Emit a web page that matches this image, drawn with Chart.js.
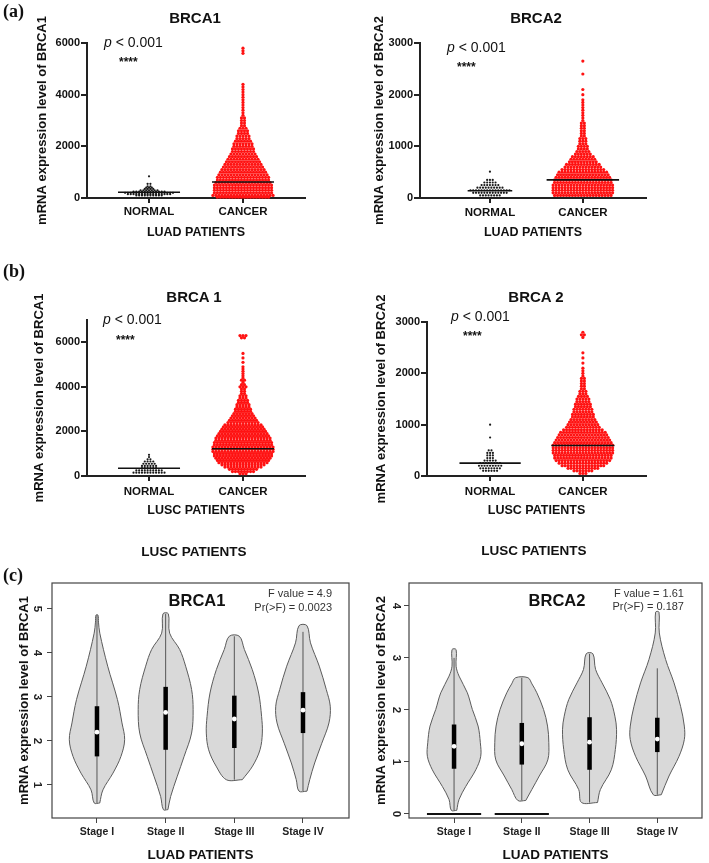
<!DOCTYPE html>
<html lang="en">
<head>
<meta charset="UTF-8">
<title>BRCA1 / BRCA2 expression</title>
<style>
  body { margin:0; background:#fff; width:709px; height:863px; overflow:hidden; position:relative;
         font-family:'Liberation Sans', Arial, sans-serif; color:#111; }
  canvas { position:absolute; }
  .lbl { position:absolute; transform:translateY(-50%); font-family:'Liberation Serif', 'Times New Roman', serif;
         font-weight:bold; font-size:18px; }
  .ttl { position:absolute; transform:translate(-50%,-50%); font-weight:bold; font-size:15px; white-space:nowrap; }
  .pv  { position:absolute; transform:translateY(-50%); font-size:14px; white-space:nowrap; }
  .st  { position:absolute; transform:translateY(-50%); font-size:12px; font-weight:bold; white-space:nowrap; }
  .sub { position:absolute; transform:translate(-50%,-50%); font-weight:bold; font-size:13.5px; white-space:nowrap; }
  .fv  { position:absolute; transform:translateY(-50%); font-size:11px; color:#333; text-align:right; white-space:nowrap; }
</style>
</head>
<body>
<canvas id="a1" width="354" height="245" style="left:0;top:0"></canvas>
<canvas id="a2" width="355" height="245" style="left:354px;top:0"></canvas>
<canvas id="b1" width="354" height="275" style="left:0;top:245px"></canvas>
<canvas id="b2" width="355" height="275" style="left:354px;top:245px"></canvas>
<canvas id="c1" width="354" height="308" style="left:0;top:555px"></canvas>
<canvas id="c2" width="355" height="308" style="left:354px;top:555px"></canvas>

<div class="lbl" style="left:3px;top:11px">(a)</div>
<div class="lbl" style="left:3px;top:271px">(b)</div>
<div class="lbl" style="left:3px;top:575px">(c)</div>

<div class="ttl" style="left:195px;top:17px">BRCA1</div>
<div class="ttl" style="left:536px;top:17px">BRCA2</div>
<div class="ttl" style="left:194px;top:296px">BRCA 1</div>
<div class="ttl" style="left:536px;top:296px">BRCA 2</div>

<div class="pv" style="left:104px;top:42px"><i>p</i> &lt; 0.001</div>
<div class="pv" style="left:447px;top:47px"><i>p</i> &lt; 0.001</div>
<div class="pv" style="left:103px;top:319px"><i>p</i> &lt; 0.001</div>
<div class="pv" style="left:451px;top:316px"><i>p</i> &lt; 0.001</div>
<div class="st" style="left:119px;top:62px">****</div>
<div class="st" style="left:457px;top:67px">****</div>
<div class="st" style="left:116px;top:340px">****</div>
<div class="st" style="left:463px;top:336px">****</div>

<div class="sub" style="left:194px;top:551px">LUSC PATIENTS</div>
<div class="sub" style="left:534px;top:550px">LUSC PATIENTS</div>

<div class="ttl" style="left:197px;top:600px;font-size:16.5px">BRCA1</div>
<div class="ttl" style="left:557px;top:600px;font-size:16.5px">BRCA2</div>
<div class="fv" style="right:377px;top:593px">F value = 4.9</div>
<div class="fv" style="right:377px;top:607px">Pr(&gt;F) = 0.0023</div>
<div class="fv" style="right:25px;top:593px">F value = 1.61</div>
<div class="fv" style="right:25px;top:606px">Pr(&gt;F) = 0.187</div>

<script src="https://cdn.jsdelivr.net/npm/chart.js"></script>
<script>
// ---- dot plots (a), (b): values and how many dots sit at each value ----
const categories = ['NORMAL', 'CANCER'];

const luadBrca1NormalLevels = [100, 150, 200, 250, 300, 350, 400, 450, 550, 840];
const luadBrca1NormalCounts = [10, 16, 18, 12, 7, 4, 3, 2, 2, 1];
const luadBrca1CancerLevels = [30, 100, 200, 300, 400, 500, 600, 700, 800, 900, 1000, 1100, 1200, 1300, 1400, 1500,
  1600, 1700, 1800, 1900, 2000, 2100, 2200, 2300, 2400, 2500, 2600, 2700, 2800, 2900, 3000, 3100, 3200, 3300, 3400,
  3500, 3600, 3700, 3800, 3900, 4000, 4100, 4200, 4300, 4400, 5600, 5700, 5800];
const luadBrca1CancerCounts = [18, 21, 20, 20, 20, 20, 19, 18, 18, 17, 16, 15, 14, 13, 12, 11, 10, 9, 8, 8, 7, 7, 6, 5,
  5, 4, 4, 3, 2, 2, 2, 2, 1, 1, 1, 1, 1, 1, 1, 1, 1, 1, 1, 1, 1, 1, 1, 1];
const luadBrca1Medians = [220, 620];

const luadBrca2NormalLevels = [50, 100, 150, 200, 250, 300, 350, 510];
const luadBrca2NormalCounts = [8, 13, 15, 10, 7, 5, 3, 1];
const luadBrca2CancerLevels = [50, 100, 150, 200, 250, 300, 350, 400, 450, 500, 550, 600, 650, 700, 750, 800, 850, 900,
  950, 1000, 1050, 1100, 1150, 1200, 1250, 1300, 1350, 1400, 1450, 1500, 1550, 1600, 1650, 1700, 1750, 1800, 1850,
  1900, 2000, 2100, 2400, 2650];
const luadBrca2CancerCounts = [20, 21, 21, 21, 21, 20, 20, 19, 18, 17, 15, 13, 12, 10, 9, 8, 6, 5, 4, 4, 3, 3, 3, 2, 2,
  2, 2, 2, 2, 1, 1, 1, 1, 1, 1, 1, 1, 1, 1, 1, 1, 1];
const luadBrca2Medians = [140, 350];

const luscBrca1NormalLevels = [150, 250, 350, 450, 550, 650, 750, 850, 950];
const luscBrca1NormalCounts = [12, 10, 6, 6, 5, 4, 2, 1, 1];
const luscBrca1CancerLevels = [100, 200, 300, 400, 500, 600, 700, 800, 900, 1000, 1100, 1200, 1300, 1400, 1500, 1600,
  1700, 1800, 1900, 2000, 2100, 2200, 2300, 2400, 2500, 2600, 2700, 2800, 2900, 3000, 3100, 3200, 3300, 3400, 3500,
  3600, 3700, 3800, 3900, 4000, 4100, 4200, 4300, 4400, 4500, 4600, 4700, 4800, 4900, 5100, 5300, 5500, 6200, 6300];
const luscBrca1CancerCounts = [3, 8, 10, 13, 15, 17, 18, 19, 20, 20, 21, 21, 21, 20, 20, 19, 19, 18, 17, 16, 15, 14, 13,
  11, 10, 9, 8, 7, 6, 6, 5, 5, 4, 4, 3, 3, 2, 2, 2, 3, 2, 1, 2, 1, 1, 1, 1, 1, 1, 1, 1, 1, 2, 3];
const luscBrca1Medians = [350, 1220];

const luscBrca2NormalLevels = [100, 150, 200, 250, 300, 350, 400, 450, 500, 750, 1000];
const luscBrca2NormalCounts = [6, 8, 9, 8, 5, 3, 3, 3, 2, 1, 1];
const luscBrca2CancerLevels = [50, 100, 150, 200, 250, 300, 350, 400, 450, 500, 550, 600, 650, 700, 750, 800, 850, 900,
  950, 1000, 1050, 1100, 1150, 1200, 1250, 1300, 1350, 1400, 1450, 1500, 1550, 1600, 1650, 1700, 1750, 1800, 1850,
  1900, 1950, 2000, 2050, 2100, 2200, 2300, 2400, 2700, 2750, 2800];
const luscBrca2CancerCounts = [3, 7, 11, 15, 17, 19, 20, 20, 21, 21, 21, 21, 20, 19, 18, 17, 16, 14, 12, 11, 10, 9, 8,
  8, 7, 7, 6, 6, 5, 5, 4, 3, 3, 2, 2, 2, 2, 2, 1, 1, 1, 1, 1, 1, 1, 1, 2, 1];
const luscBrca2Medians = [250, 595];

const brca1DotTicks = [0, 2000, 4000, 6000];
const brca2DotTicks = [0, 1000, 2000, 3000];

// ---- violin plots (c): outline (value, half width), box stats ----
const stageLabels = ['Stage I', 'Stage II', 'Stage III', 'Stage IV'];

const brca1ViolinY = [
  [0.59, 0.89, 1.27, 1.65, 2.03, 2.41, 2.94, 3.70, 4.45, 4.70, 4.86],
  [0.44, 0.74, 1.20, 1.65, 2.18, 2.71, 3.17, 3.70, 4.08, 4.45, 4.89],
  [1.12, 1.43, 1.80, 2.18, 2.56, 3.09, 3.62, 4.08, 4.38],
  [0.86, 1.12, 1.50, 1.95, 2.41, 2.79, 3.17, 3.70, 4.23, 4.62]
];
const brca1ViolinHalf = [
  [0.040, 0.087, 0.233, 0.349, 0.403, 0.364, 0.298, 0.156, 0.041, 0.022, 0.015],
  [0.033, 0.073, 0.170, 0.269, 0.378, 0.400, 0.378, 0.291, 0.204, 0.058, 0.039],
  [0.116, 0.266, 0.374, 0.408, 0.397, 0.354, 0.262, 0.146, 0.073],
  [0.058, 0.098, 0.170, 0.274, 0.378, 0.397, 0.339, 0.237, 0.109, 0.058]
];
const brca1Q1 = [1.65, 1.80, 1.84, 2.18];
const brca1Median = [2.20, 2.65, 2.50, 2.70];
const brca1Q3 = [2.79, 3.23, 3.03, 3.11];
const brca1Low = [0.59, 0.44, 1.12, 0.86];
const brca1High = [4.86, 4.89, 4.38, 4.48];
const brca1ViolinTicks = [1, 2, 3, 4, 5];

const brca2ViolinY = [
  [0.07, 0.28, 0.53, 0.85, 1.11, 1.37, 1.69, 2.01, 2.33, 2.65, 2.84, 3.16],
  [0.26, 0.47, 0.73, 1.04, 1.37, 1.69, 2.01, 2.33, 2.50, 2.62],
  [0.22, 0.47, 0.85, 1.24, 1.62, 1.88, 2.20, 2.52, 2.78, 3.08],
  [0.37, 0.73, 1.11, 1.43, 1.69, 2.07, 2.52, 2.97, 3.48, 3.88]
];
const brca2ViolinHalf = [
  [0.040, 0.074, 0.173, 0.321, 0.394, 0.388, 0.355, 0.270, 0.196, 0.074, 0.030, 0.030],
  [0.059, 0.148, 0.258, 0.384, 0.399, 0.380, 0.321, 0.222, 0.150, 0.090],
  [0.118, 0.160, 0.321, 0.381, 0.399, 0.374, 0.307, 0.185, 0.089, 0.049],
  [0.059, 0.173, 0.321, 0.399, 0.399, 0.344, 0.247, 0.123, 0.030, 0.025]
];
const brca2Q1 = [0.87, 0.95, 0.85, 1.19];
const brca2Median = [1.30, 1.35, 1.38, 1.44];
const brca2Q3 = [1.72, 1.75, 1.86, 1.85];
const brca2Low = [0.07, 0.26, 0.22, 0.37];
const brca2High = [3.00, 2.62, 3.08, 2.80];
const brca2ZeroStages = [1, 2];
const brca2ViolinTicks = [0, 1, 2, 3, 4];

// ---- helpers ----
const FONT = "'Liberation Sans', Arial, sans-serif";

function fixSize(size) {
  return s => { if (s.isHorizontal()) s.height = size; else s.width = size; };
}

// rows of dots, spread sideways around the category
function swarm(levels, counts, center, dx) {
  const pts = [];
  levels.forEach((v, k) => {
    const n = counts[k];
    for (let i = 0; i < n; i++) pts.push({ x: center + (i - (n - 1) / 2) * dx, y: v });
  });
  return pts;
}

function dotPlot(id, o) {
  const line = (c, v, hw) => [{ x: c - hw, y: v }, { x: c + hw, y: v }];
  new Chart(document.getElementById(id), {
    type: 'scatter',
    data: {
      datasets: [
        { data: line(1, o.medians[0], o.medianHalf[0]), showLine: true, borderColor: '#111', borderWidth: 1.6, pointRadius: 0, order: 1 },
        { data: line(2, o.medians[1], o.medianHalf[1]), showLine: true, borderColor: '#111', borderWidth: 1.6, pointRadius: 0, order: 1 },
        { data: swarm(o.cancerLevels, o.cancerCounts, 2, 0.032), pointRadius: 1.6, pointBorderWidth: 0,
          backgroundColor: '#ff1212', pointBackgroundColor: '#ff1212', clip: 4, order: 2 },
        { data: swarm(o.normalLevels, o.normalCounts, 1, 0.03), pointRadius: 1.1, pointBorderWidth: 0,
          backgroundColor: '#1a1a1a', pointBackgroundColor: '#1a1a1a', clip: 4, order: 3 }
      ]
    },
    options: {
      responsive: false, animation: false, events: [],
      layout: { padding: { top: o.top, right: o.right, left: 0, bottom: 0 } },
      plugins: { legend: { display: false }, tooltip: { enabled: false } },
      scales: {
        x: {
          type: 'linear', min: o.xMin, max: o.xMax,
          afterFit: fixSize(o.xHeight),
          afterBuildTicks: s => { s.ticks = [1, 2].map(v => ({ value: v })); },
          ticks: { callback: v => categories[v - 1], color: '#111', padding: o.xTickPad, maxRotation: 0, autoSkip: false,
                   font: { family: FONT, size: 11.5, weight: 'bold' } },
          grid: { drawOnChartArea: false, tickLength: 5, color: '#222', lineWidth: 2 },
          border: { color: '#222', width: 2 },
          title: { display: true, text: o.xTitle, color: '#111', padding: { top: 0, bottom: o.xTitlePad },
                   font: { family: FONT, size: 12.5, weight: 'bold', lineHeight: 1 } }
        },
        y: {
          min: 0, max: o.yMax,
          afterFit: fixSize(o.yWidth),
          afterBuildTicks: s => { s.ticks = o.yTicks.map(v => ({ value: v })); },
          ticks: { callback: v => String(v), color: '#111', padding: 1, font: { family: FONT, size: 11, weight: 'bold' } },
          grid: { drawOnChartArea: false, tickLength: 6, color: '#222', lineWidth: 2 },
          border: { color: '#222', width: 2 },
          title: { display: true, text: o.yTitle, color: '#111', padding: { top: o.yTitlePad, bottom: 0 },
                   font: { family: FONT, size: 13, weight: 'bold', lineHeight: 1 } }
        }
      }
    }
  });
}

const framePlugin = {
  id: 'frame',
  afterDraw(chart) {
    const { ctx, chartArea: a } = chart;
    ctx.save();
    ctx.strokeStyle = '#444';
    ctx.lineWidth = 1.2;
    ctx.strokeRect(a.left, a.top, a.right - a.left, a.bottom - a.top);
    ctx.restore();
  }
};

function violinShape(c, ys, hws) {
  const right = ys.map((y, i) => ({ x: c + hws[i], y }));
  const left = ys.map((y, i) => ({ x: c - hws[i], y })).reverse();
  return [...right, ...left, right[0]];
}

function violinPlot(id, o) {
  const datasets = [];
  o.ys.forEach((ys, s) => {
    const c = s + 1;
    datasets.push({ data: violinShape(c, ys, o.half[s]), showLine: true, fill: 'shape', backgroundColor: '#d9d9d9',
                    borderColor: '#5b5b5b', borderWidth: 1, pointRadius: 0, tension: 0.35, order: 5 });
    datasets.push({ data: [{ x: c, y: o.low[s] }, { x: c, y: o.high[s] }], showLine: true, borderColor: '#555',
                    borderWidth: 1, pointRadius: 0, order: 4 });
    datasets.push({ data: [{ x: c, y: o.q1[s] }, { x: c, y: o.q3[s] }], showLine: true, borderColor: '#000',
                    borderWidth: 4.5, borderCapStyle: 'butt', pointRadius: 0, order: 3 });
    datasets.push({ data: [{ x: c, y: o.median[s] }], pointRadius: 2.4, pointBorderWidth: 0,
                    backgroundColor: '#fff', pointBackgroundColor: '#fff', order: 2 });
  });
  (o.zeroStages || []).forEach(c => {
    datasets.push({ data: [{ x: c - 0.4, y: 0 }, { x: c + 0.4, y: 0 }], showLine: true, borderColor: '#111',
                    borderWidth: 2, pointRadius: 0, order: 1 });
  });
  new Chart(document.getElementById(id), {
    type: 'scatter',
    data: { datasets },
    options: {
      responsive: false, animation: false, events: [],
      layout: { padding: { top: 28, right: o.right, left: 0, bottom: 0 } },
      plugins: { legend: { display: false }, tooltip: { enabled: false } },
      scales: {
        x: {
          type: 'linear', min: o.xMin, max: o.xMax,
          afterFit: fixSize(45),
          afterBuildTicks: s => { s.ticks = [1, 2, 3, 4].map(v => ({ value: v })); },
          ticks: { callback: v => stageLabels[v - 1], color: '#222', padding: 3, maxRotation: 0, autoSkip: false,
                   font: { family: FONT, size: 10.5, weight: 'bold' } },
          grid: { drawOnChartArea: false, tickLength: 5, color: '#444', lineWidth: 1 },
          border: { display: false },
          title: { display: true, text: 'LUAD PATIENTS', color: '#111', padding: { top: 0, bottom: 0.5 },
                   font: { family: FONT, size: 13.5, weight: 'bold', lineHeight: 1 } }
        },
        y: {
          min: o.yMin, max: o.yMax,
          afterFit: fixSize(o.yWidth),
          afterBuildTicks: s => { s.ticks = o.yTicks.map(v => ({ value: v })); },
          ticks: { color: '#222', padding: o.yTickPad, minRotation: -90, crossAlign: 'center',
                   font: { family: FONT, size: 11.5, weight: 'bold' } },
          grid: { drawOnChartArea: false, tickLength: 5, color: '#444', lineWidth: 1 },
          border: { display: false },
          title: { display: true, text: o.yTitle, color: '#111', padding: { top: o.yTitlePad, bottom: 0 },
                   font: { family: FONT, size: 13, weight: 'bold', lineHeight: 1 } }
        }
      }
    },
    plugins: [framePlugin]
  });
}

// ---- build ----
dotPlot('a1', {
  normalLevels: luadBrca1NormalLevels, normalCounts: luadBrca1NormalCounts,
  cancerLevels: luadBrca1CancerLevels, cancerCounts: luadBrca1CancerCounts,
  medians: luadBrca1Medians, medianHalf: [0.33, 0.33],
  yMax: 6000, yTicks: brca1DotTicks, xMin: 0.34, xMax: 2.66,
  top: 43, right: 49, yWidth: 87, xHeight: 47, xTickPad: 2, xTitlePad: 6,
  yTitle: 'mRNA expression level of BRCA1', yTitlePad: 35.5, xTitle: 'LUAD PATIENTS'
});
dotPlot('a2', {
  normalLevels: luadBrca2NormalLevels, normalCounts: luadBrca2NormalCounts,
  cancerLevels: luadBrca2CancerLevels, cancerCounts: luadBrca2CancerCounts,
  medians: luadBrca2Medians, medianHalf: [0.24, 0.39],
  yMax: 3000, yTicks: brca2DotTicks, xMin: 0.247, xMax: 2.68,
  top: 43, right: 63, yWidth: 66, xHeight: 47, xTickPad: 3, xTitlePad: 6,
  yTitle: 'mRNA expression level of BRCA2', yTitlePad: 18.5, xTitle: 'LUAD PATIENTS'
});
dotPlot('b1', {
  normalLevels: luscBrca1NormalLevels, normalCounts: luscBrca1NormalCounts,
  cancerLevels: luscBrca1CancerLevels, cancerCounts: luscBrca1CancerCounts,
  medians: luscBrca1Medians, medianHalf: [0.33, 0.33],
  yMax: 7000, yTicks: brca1DotTicks, xMin: 0.34, xMax: 2.66,
  top: 75, right: 49, yWidth: 87, xHeight: 44, xTickPad: 4, xTitlePad: 3,
  yTitle: 'mRNA expression level of BRCA1', yTitlePad: 32.5, xTitle: 'LUSC PATIENTS'
});
dotPlot('b2', {
  normalLevels: luscBrca2NormalLevels, normalCounts: luscBrca2NormalCounts,
  cancerLevels: luscBrca2CancerLevels, cancerCounts: luscBrca2CancerCounts,
  medians: luscBrca2Medians, medianHalf: [0.33, 0.34],
  yMax: 3000, yTicks: brca2DotTicks, xMin: 0.32, xMax: 2.68,
  top: 77, right: 63, yWidth: 73, xHeight: 44, xTickPad: 4, xTitlePad: 3,
  yTitle: 'mRNA expression level of BRCA2', yTitlePad: 21, xTitle: 'LUSC PATIENTS'
});

violinPlot('c1', {
  ys: brca1ViolinY, half: brca1ViolinHalf, q1: brca1Q1, median: brca1Median, q3: brca1Q3,
  low: brca1Low, high: brca1High, yTicks: brca1ViolinTicks,
  yMin: 0.25, yMax: 5.59, xMin: 0.345, xMax: 4.67, right: 5, yWidth: 52, yTickPad: 7,
  yTitle: 'mRNA expression level of BRCA1', yTitlePad: 17.5
});
violinPlot('c2', {
  ys: brca2ViolinY, half: brca2ViolinHalf, q1: brca2Q1, median: brca2Median, q3: brca2Q3,
  low: brca2Low, high: brca2High, yTicks: brca2ViolinTicks, zeroStages: brca2ZeroStages,
  yMin: -0.077, yMax: 4.44, xMin: 0.335, xMax: 4.66, right: 7, yWidth: 55, yTickPad: 5,
  yTitle: 'mRNA expression level of BRCA2', yTitlePad: 20.5
});
</script>
</body>
</html>
